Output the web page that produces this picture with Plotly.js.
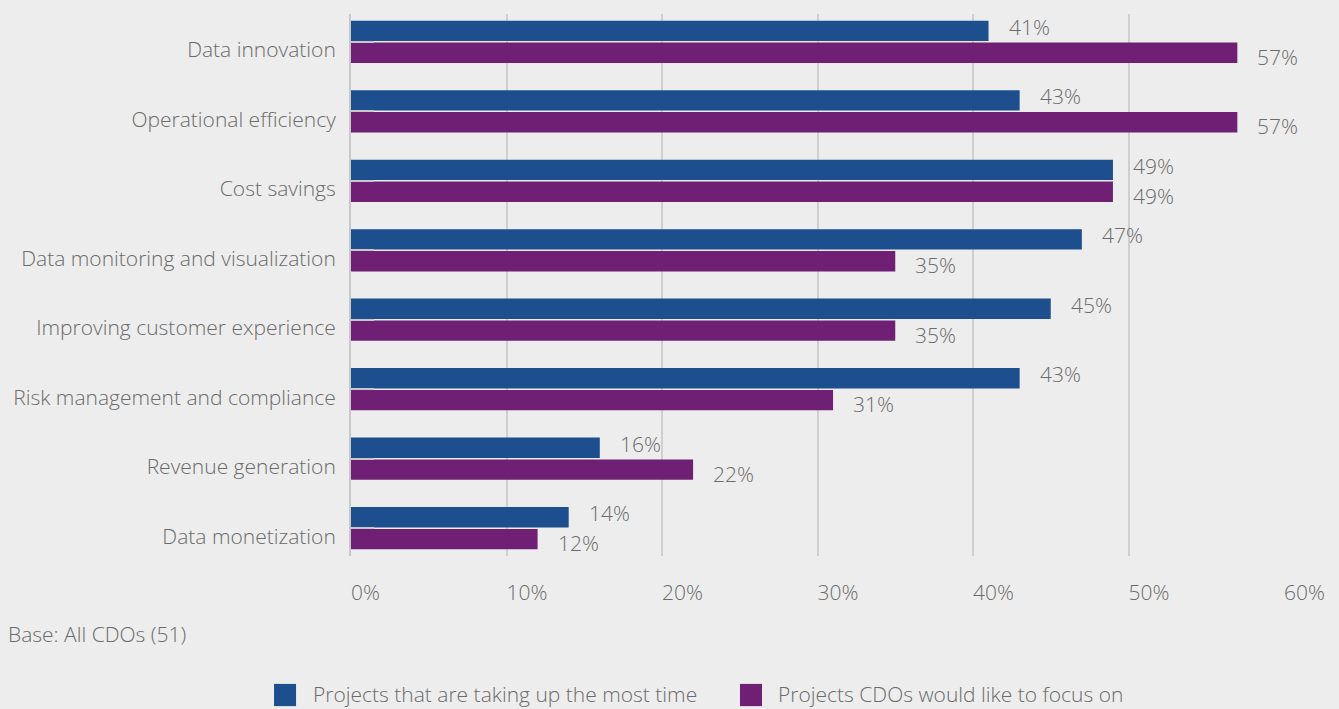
<!DOCTYPE html>
<html>
<head>
<meta charset="utf-8">
<script src="https://cdn.plot.ly/plotly-3.0.1.min.js"></script>
<style>html,body{margin:0;padding:0;background:#ededed;}#chart{width:1339px;height:709px;}</style>
</head>
<body>
<div id="chart"></div>
<script>
const categories = ["Data innovation","Operational efficiency","Cost savings","Data monitoring and visualization","Improving customer experience","Risk management and compliance","Revenue generation","Data monetization"];
const seriesNames = ["Projects that are taking up the most time","Projects CDOs would like to focus on"];
const mostTime = [41,43,49,47,45,43,16,14];
const likeToFocus = [57,57,49,35,35,31,22,12];
const xTicks = [0,10,20,30,40,50,60];
const colors = ["#1d4f8f","#6f2074"];
const textColor = "#6b6b6b";
const fontFamily = "'Open Sans', Roboto, sans-serif";
const FS = 21;

const seriesValues = [mostTime, likeToFocus];
const traces = seriesValues.map((vals, i) => ({
  type: "bar",
  orientation: "h",
  name: seriesNames[i],
  y: categories,
  x: vals,
  marker: {color: colors[i]},
  showlegend: false,
  hoverinfo: "x+y"
}));

const annotations = [];
// value labels, anchored to each bar's value on the data axes
seriesValues.forEach((vals, i) => {
  vals.forEach((v, j) => {
    annotations.push({
      xref: "x", yref: "y", x: v, y: categories[j],
      xanchor: "left", yanchor: "middle",
      xshift: 18, yshift: i === 0 ? 15 : -15,
      showarrow: false, text: v + "%",
      font: {family: fontFamily, size: FS, color: textColor, weight: 300}
    });
  });
});

// custom legend (squares + text) below the chart
const legendX = [-0.0825, 0.4169];
const legendTextX = [-0.0429, 0.4555];
const shapes = legendX.map((x0, i) => ({
  type: "rect", xref: "paper", yref: "paper",
  x0: x0, x1: x0 + 0.0236, y0: -0.236, y1: -0.277,
  fillcolor: colors[i], line: {width: 0}
}));
legendTextX.forEach((x, i) => annotations.push({
  xref: "paper", yref: "paper", x: x, y: -0.2545,
  xanchor: "left", yanchor: "middle", showarrow: false,
  text: seriesNames[i],
  font: {family: fontFamily, size: FS, color: textColor, weight: 300}
}));
annotations.push({
  xref: "paper", yref: "paper", x: -0.37, y: -0.1439,
  xanchor: "left", yanchor: "middle", showarrow: false,
  text: "Base: All CDOs (51)",
  font: {family: fontFamily, size: FS, color: textColor, weight: 300}
});

const layout = {
  width: 1339, height: 709,
  paper_bgcolor: "#ededed", plot_bgcolor: "#ededed",
  margin: {l: 351, r: 55, t: 14, b: 153},
  barmode: "group",
  bargap: 0.37,
  bargroupgap: 0.07,
  font: {family: fontFamily, color: textColor, size: FS, weight: 300},
  xaxis: {
    range: [0, 60],
    tickvals: xTicks,
    ticktext: xTicks.map(v => v + "%"),
    showgrid: true, gridcolor: "#cfcfcf", gridwidth: 1.5,
    zeroline: false, showline: false,
    ticks: "",
    ticklabelposition: "outside right",
    ticklabelstandoff: 22,
    tickfont: {family: fontFamily, size: FS, color: textColor, weight: 300},
    fixedrange: true
  },
  yaxis: {
    type: "category",
    range: [7.4, -0.4],
    showgrid: false, zeroline: false,
    showline: true, linecolor: "#c8c8c8", linewidth: 2,
    ticks: "inside", ticklen: 23, tickcolor: "#c8c8c8", tickwidth: 1.5,
    ticklabelstandoff: 9,
    ticklabelshift: -8,
    tickfont: {family: fontFamily, size: FS, color: textColor, weight: 300},
    fixedrange: true
  },
  shapes: shapes,
  annotations: annotations
};

Plotly.newPlot("chart", traces, layout, {displayModeBar: false});
</script>
</body>
</html>
